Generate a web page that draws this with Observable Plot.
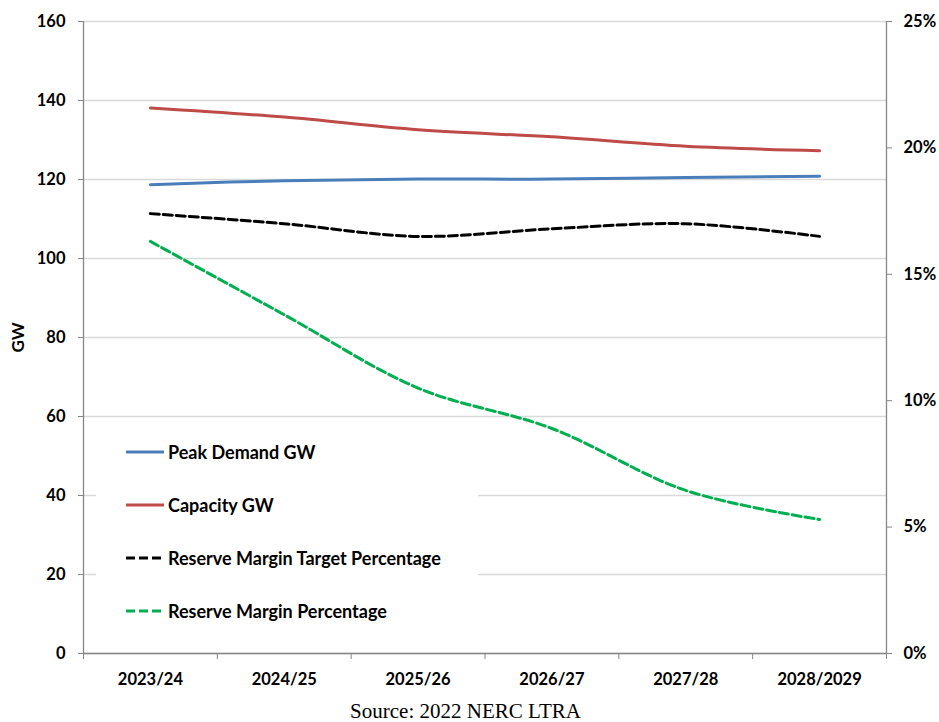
<!DOCTYPE html>
<html><head><meta charset="utf-8">
<script src="https://cdn.jsdelivr.net/npm/d3@7"></script>
<script src="https://cdn.jsdelivr.net/npm/@observablehq/plot@0.6"></script>
<style>
body{margin:0;background:#fff;font-family:Lato,"Open Sans",sans-serif;}
#wrap{position:relative;width:939px;height:722px;overflow:hidden;}
#legend{position:absolute;left:96px;top:424px;width:382px;height:226px;background:#fff;}
.item{position:absolute;left:30px;height:24px;display:flex;align-items:center;font-weight:bold;font-size:18px;color:#000;white-space:nowrap;}
.item svg{margin-right:4px;}
#caption{position:absolute;left:0;top:700px;width:931px;line-height:22px;text-align:center;font-family:"Liberation Serif",serif;font-size:21px;color:#000;}
</style></head><body>
<div id="wrap"><div id="chart"></div><div id="legend"></div><div id="caption">Source: 2022 NERC LTRA</div></div>
<script>
const categories = ["2023/24","2024/25","2025/26","2026/27","2027/28","2028/2029"];
const peakDemandGW = [118.7,119.7,120.1,120.1,120.5,120.8];
const capacityGW = [138.1,135.8,132.6,130.8,128.4,127.3];
const reserveMarginTargetPct = [17.4,17.0,16.5,16.8,17.0,16.5];
const reserveMarginPct = [16.3,13.4,10.5,8.9,6.45,5.3];
const gwTicks = [0,20,40,60,80,100,120,140,160];
const pctTicks = [0,5,10,15,20,25];
const seriesNames = ["Peak Demand GW","Capacity GW","Reserve Margin Target Percentage","Reserve Margin Percentage"];
const seriesColors = ["#4a7ebb","#be4b48","#000000","#00b050"];
const seriesDash = [null,null,"9,4","9,4"];

const k = gwTicks[gwTicks.length-1] / pctTicks[pctTicks.length-1];
const rows = categories.map((c,i)=>({i, c, peak:peakDemandGW[i], cap:capacityGW[i], target:reserveMarginTargetPct[i]*k, rm:reserveMarginPct[i]*k}));
const n = categories.length;
const boundaries = d3.range(n+1).map(i=>i-0.5);

const chart = Plot.plot({
  width:939, height:700,
  marginLeft:83, marginRight:53, marginTop:21, marginBottom:47,
  x:{type:"linear", domain:[-0.5, n-0.5]},
  y:{domain:[0,160]},
  style:{fontFamily:"Lato, 'Open Sans', sans-serif", fontSize:"16.5px", fontWeight:"bold", color:"#000", background:"#fff"},
  marks:[
    Plot.gridY(gwTicks, {stroke:"#d9d9d9", strokeOpacity:1, strokeWidth:1.3}),
    Plot.ruleX([-0.5, n-0.5], {stroke:"#868686", strokeWidth:1.3}),
    Plot.ruleY([0], {stroke:"#868686", strokeWidth:1.3}),
    Plot.axisY(gwTicks, {anchor:"left", tickSize:5, tickPadding:13, stroke:"#868686", label:null, fontSize:16.5, fontWeight:"bold"}),
    Plot.axisY(pctTicks.map(p=>p*k), {anchor:"right", tickSize:5, tickPadding:12, stroke:"#868686", tickFormat:d=>Math.round(d/k)+"%", label:null, fontSize:16.5, fontWeight:"bold"}),
    Plot.axisX(boundaries, {tickSize:6, tickFormat:()=>"", stroke:"#868686", label:null}),
    Plot.axisX(d3.range(n), {tickSize:0, tickPadding:20, tickFormat:i=>categories[i], label:null, fontSize:16.5, fontWeight:"bold"}),
    Plot.text(["GW"], {frameAnchor:"left", textAnchor:"middle", rotate:-90, dx:-65, fontSize:17, fontWeight:"bold"}),
    Plot.lineY(rows, {x:"i", y:"peak", stroke:seriesColors[0], strokeWidth:3, curve:"catmull-rom"}),
    Plot.lineY(rows, {x:"i", y:"cap", stroke:seriesColors[1], strokeWidth:3, curve:"catmull-rom"}),
    Plot.lineY(rows, {x:"i", y:"target", stroke:seriesColors[2], strokeWidth:3, strokeDasharray:seriesDash[2], curve:"catmull-rom"}),
    Plot.lineY(rows, {x:"i", y:"rm", stroke:seriesColors[3], strokeWidth:3, strokeDasharray:seriesDash[3], curve:"catmull-rom"})
  ]
});
document.getElementById("chart").appendChild(chart);

const legend = document.getElementById("legend");
const centers = [28, 81, 134, 187];
seriesNames.forEach((name, j) => {
  const d = document.createElement("div");
  d.className = "item";
  d.style.top = (centers[j]-12) + "px";
  const dash = seriesDash[j] ? ` stroke-dasharray="${seriesDash[j]}"` : "";
  d.innerHTML = `<svg width="38" height="6"><line x1="0" y1="3" x2="38" y2="3" stroke="${seriesColors[j]}" stroke-width="3"${dash}/></svg><span></span>`;
  d.querySelector("span").textContent = name;
  legend.appendChild(d);
});
</script>
</body></html>
